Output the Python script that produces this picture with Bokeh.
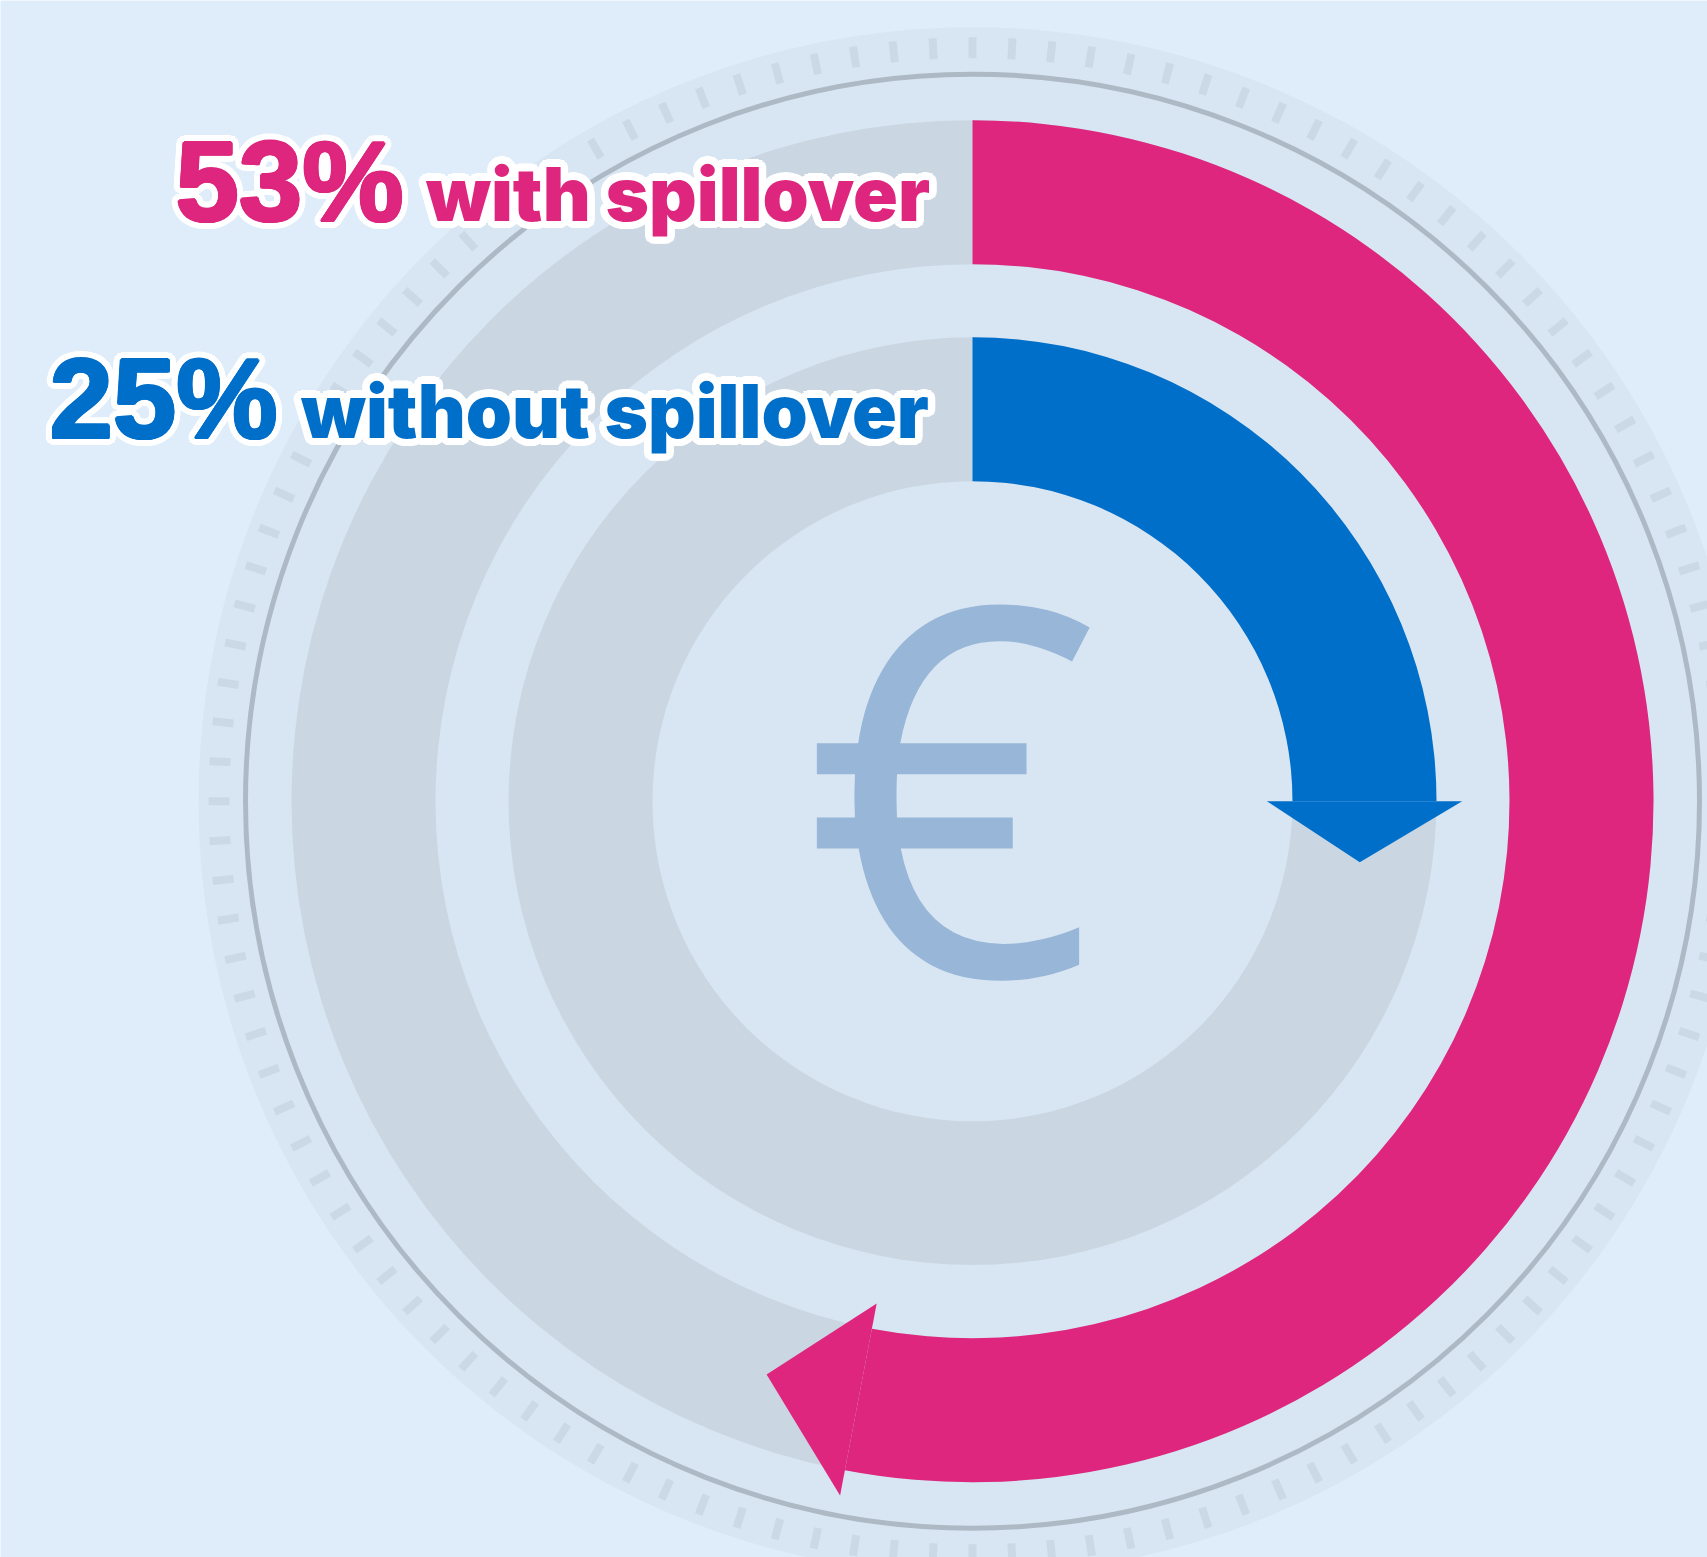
import numpy as np
from bokeh.plotting import figure
from bokeh.models import Range1d
from bokeh.core.properties import value
from bokeh.embed import file_html
from bokeh.resources import INLINE

# data
shares = [53, 25]
share_labels = ["53%", "25%"]
series_labels = ["with spillover", "without spillover"]
series_colors = ["#de267e", "#006fca"]
tick_count = 120

W, H = 1707, 1557
CX, CY = 972.0, H - 800.7
R_OUT = [681, 464]
R_IN = [537, 320]
BG = "#dfedfb"
DISC = "#d8e6f3"
TRACK = "#cad7e3"

p = figure(width=W, height=H, x_range=Range1d(0, W), y_range=Range1d(0, H),
           output_backend="svg", toolbar_location=None, min_border=0,
           background_fill_color=BG, border_fill_color=BG, outline_line_color=None,
           styles={"position": "fixed", "left": "0px", "top": "0px"})
p.axis.visible = False
p.grid.visible = False

p.circle([CX], [CY], radius=774, fill_color=DISC, line_color=None)
a = np.arange(tick_count) * 2 * np.pi / tick_count
p.segment(CX + 743 * np.sin(a), CY + 743 * np.cos(a), CX + 764 * np.sin(a), CY + 764 * np.cos(a),
          line_color="#cbd9e6", line_width=8)
p.circle([CX], [CY], radius=727, fill_color=None, line_color="#adbac6", line_width=5)

for i, s in enumerate(shares):
    ro, ri = R_OUT[i], R_IN[i]
    p.annular_wedge([CX], [CY], inner_radius=ri, outer_radius=ro, start_angle=0, end_angle=2 * np.pi,
                    fill_color=TRACK, line_color=None)
for i, s in enumerate(shares):
    ro, ri = R_OUT[i], R_IN[i]
    th = 2 * np.pi * s / 100
    p.annular_wedge([CX], [CY], inner_radius=ri, outer_radius=ro,
                    start_angle=np.pi / 2 - th, end_angle=np.pi / 2,
                    fill_color=series_colors[i], line_color=None)
    rm = (ro + ri) / 2
    h0, h1 = rm - 97.7, rm + 97.7
    rad = np.array([np.sin(th), np.cos(th)])
    tan = np.array([np.cos(th), -np.sin(th)])
    c = np.array([CX, CY])
    A = c + h0 * rad
    B = c + h1 * rad
    T = c + (rm * 0.988) * rad + rm * 0.1557 * tan
    p.patch([A[0], B[0], T[0]], [A[1], B[1], T[1]], fill_color=series_colors[i], line_color=None)

EURO_FS = 513
p.text([950], [H - 966 + 0.37 * EURO_FS], text=["€"], text_font=value("Open Sans"), text_font_size=f"{EURO_FS}px",
       text_align="center", text_baseline="alphabetic", text_color="#98b6d7")

num_x = [289, 163]
lab_x = [677.5, 614.5]
base_y = [222, 439]
ring = np.arange(24) * 2 * np.pi / 24
ring2 = np.arange(8) * 2 * np.pi / 8


def label(x, y, t, fs, col, font, style, extra=0.0):
    yy = H - y + 0.36 * fs
    n = len(ring)
    p.text(x + 7.5 * np.cos(ring), yy + 7.5 * np.sin(ring), text=[t] * n, text_font=value(font), text_font_style=style,
           text_font_size=f"{fs}px", text_align="center", text_baseline="alphabetic", text_color="white")
    if extra:
        p.text(x + extra * np.cos(ring2), yy + extra * np.sin(ring2), text=[t] * len(ring2), text_font=value(font),
               text_font_style=style, text_font_size=f"{fs}px", text_align="center", text_baseline="alphabetic",
               text_color=col)
    p.text([x], [yy], text=[t], text_font=value(font), text_font_style=style, text_font_size=f"{fs}px",
           text_align="center", text_baseline="alphabetic", text_color=col)


for i in range(2):
    label(lab_x[i], base_y[i] - 2, series_labels[i], 74, series_colors[i], "Inter Black", "normal")
    label(num_x[i], base_y[i], share_labels[i], 114, series_colors[i], "Liberation Sans", "bold", extra=1.5)

open("out.html", "w").write(file_html(p, INLINE))
